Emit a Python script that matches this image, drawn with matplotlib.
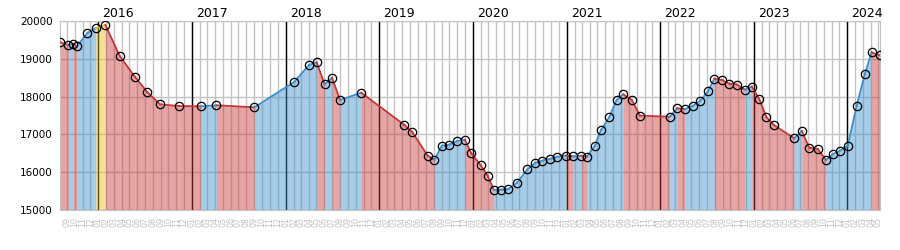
import matplotlib
matplotlib.use("Agg")
import matplotlib.pyplot as plt
import matplotlib.dates as mdates
import numpy as np

dates = [
    "2015-08-05", "2015-09-07", "2015-09-25", "2015-10-10", "2015-11-20",
    "2015-12-23", "2016-01-29", "2016-03-25", "2016-05-23", "2016-07-10",
    "2016-08-29", "2016-11-10", "2017-02-03", "2017-04-06", "2017-09-01",
    "2018-02-04", "2018-04-02", "2018-05-02", "2018-06-02", "2018-07-01",
    "2018-08-01", "2018-10-23", "2019-04-09", "2019-05-09", "2019-07-09",
    "2019-08-04", "2019-09-02", "2019-10-02", "2019-11-01", "2019-12-01",
    "2019-12-26", "2020-01-31", "2020-02-28", "2020-03-23", "2020-04-21",
    "2020-05-19", "2020-06-21", "2020-08-01", "2020-09-01", "2020-09-27",
    "2020-10-27", "2020-11-24", "2020-12-30", "2021-01-25", "2021-02-27",
    "2021-03-21", "2021-04-20", "2021-05-15", "2021-06-17", "2021-07-15",
    "2021-08-10", "2021-09-12", "2021-10-14", "2022-02-07", "2022-03-08",
    "2022-04-07", "2022-05-07", "2022-06-06", "2022-07-06", "2022-07-31",
    "2022-08-30", "2022-09-28", "2022-10-26", "2022-11-27", "2022-12-24",
    "2023-01-22", "2023-02-19", "2023-03-20", "2023-06-07", "2023-07-07",
    "2023-08-05", "2023-09-07", "2023-10-09", "2023-11-04", "2023-12-03",
    "2024-01-02", "2024-02-06", "2024-03-09", "2024-04-04", "2024-05-07",
]
values = [
    19437, 19365, 19400, 19330, 19683,
    19815, 19894, 19074, 18527, 18122,
    17796, 17751, 17743, 17770, 17717,
    18390, 18836, 18907, 18325, 18500,
    17910, 18103, 17250, 17071, 16437,
    16331, 16701, 16730, 16825, 16860,
    16500, 16190, 15907, 15529, 15540,
    15556, 15722, 16077, 16251, 16304,
    16349, 16410, 16440, 16420, 16435,
    16415, 16693, 17116, 17468, 17910,
    18060, 17910, 17495, 17468, 17690,
    17670, 17751, 17892, 18140, 18475,
    18439, 18340, 18320, 18185, 18265,
    17933, 17460, 17250, 16897, 17090,
    16648, 16614, 16323, 16473, 16569,
    16701, 17760, 18598, 19172, 19093,
]
years = [2016, 2017, 2018, 2019, 2020, 2021, 2022, 2023, 2024]

RED = "#c83737"
BLUE = "#3a8fcc"
YELLOW = "#e6bc1e"
GRID = "#c4c4c4"
BASE = 15000

x = np.array(dates, dtype="datetime64[D]")
y = np.array(values)
top = int(np.argmax(y))

fig = plt.figure(figsize=(9, 2.5), dpi=100)
ax = fig.add_axes([60 / 900, 40 / 250, 820 / 900, 189 / 250])

# one coloured piece per interval: up = blue, down = red, run to the peak = yellow
for i in range(len(x) - 1):
    if i + 1 == top:
        c = YELLOW
    elif y[i + 1] >= y[i]:
        c = BLUE
    else:
        c = RED
    ax.fill_between(x[i:i + 2], y[i:i + 2], BASE, color=c, alpha=0.45, lw=0, zorder=2)
    ax.plot(x[i:i + 2], y[i:i + 2], color=c, lw=1.3, zorder=3)

ax.plot(x, y, "o", mfc="none", mec="black", ms=6, mew=0.9, zorder=4)

for yr in years:
    d = np.datetime64("%d-01-01" % yr)
    ax.axvline(d, color="black", lw=1, zorder=1)
    ax.annotate(str(yr), xy=(d, 1), xycoords=("data", "axes fraction"),
                xytext=(3, 3), textcoords="offset points",
                ha="left", va="baseline", fontsize=9)

ax.set_xlim(x[0], x[-1])
ax.set_ylim(BASE, 20000)
ax.set_yticks(range(15000, 20001, 1000))
ax.xaxis.set_major_locator(mdates.MonthLocator())
ax.xaxis.set_major_formatter(mdates.DateFormatter("%m"))
ax.grid(True, color=GRID, lw=1, zorder=0)
ax.set_axisbelow(True)
ax.tick_params(axis="x", length=0, pad=5, labelsize=5.7, labelcolor="#c0c0c0", labelrotation=90)
ax.tick_params(axis="y", length=0, pad=5, labelsize=7.5)
for s in ax.spines.values():
    s.set_color(GRID)

plt.savefig("out.png", dpi=100)
